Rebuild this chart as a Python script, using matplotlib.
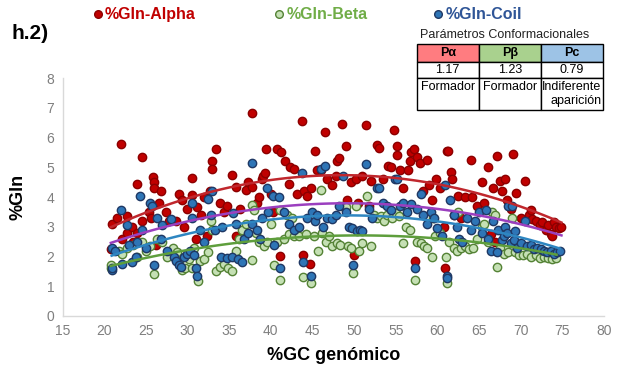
import matplotlib
matplotlib.use("Agg")
import matplotlib.pyplot as plt
from matplotlib.lines import Line2D
import numpy as np

# %Gln in alpha helix vs genomic %GC
alpha_x = [20.8, 21.0, 21.5, 22.0, 22.2, 22.7, 22.7, 23.3, 23.5, 23.9, 24.0, 24.5, 24.6, 25.4, 25.6,
           25.9, 26.0, 26.0, 26.2, 26.6, 26.8, 27.4, 27.8, 28.6, 29.0, 29.4, 29.6, 30.0, 30.6, 30.6,
           31.0, 31.2, 31.6, 32.0, 32.4, 32.7, 32.9, 33.0, 33.4, 33.9, 34.4, 34.8, 35.3, 35.8, 35.8,
           36.3, 37.0, 37.3, 37.7, 37.8, 38.3, 38.6, 38.9, 39.1, 39.3, 39.4, 40.0, 40.3,
           40.8, 41.1, 41.2, 41.7, 42.2, 42.3, 42.8, 43.2, 43.8, 43.9, 44.0, 44.3, 44.7, 44.8, 45.3,
           45.5, 46.0, 46.5, 46.8, 47.3, 47.8, 48.0, 48.2, 48.6, 49.0, 49.2, 49.6, 50.0, 50.2, 50.5,
           51.0, 51.4, 51.8, 52.0, 52.7, 53.0, 53.5, 54.1, 54.4, 54.8, 55.1, 55.1, 55.5, 55.9, 56.5,
           56.7, 56.8, 57.2, 57.3, 57.5, 57.9, 58.3, 58.7, 59.0, 59.4, 59.8, 60.3,
           60.8, 60.9, 61.1, 61.3, 61.6, 61.8, 62.0, 62.5, 62.8, 63.3, 64.0, 64.2, 64.8, 65.3, 65.6,
           66.1, 66.4, 66.7, 66.9, 67.1, 67.5, 67.8, 68.1, 68.3, 68.8, 69.1, 69.5, 70.0, 70.5, 71.0,
           71.3, 71.4, 71.9, 72.3, 72.6, 73.0, 73.3, 73.7, 73.8, 74.0, 74.3, 74.6, 74.9]
alpha_y = [2.25, 3.10, 3.28, 5.77, 2.60, 3.36, 2.80, 3.00, 2.50, 2.80, 4.43, 5.36, 3.20, 3.50, 3.30,
           4.68, 4.50, 4.30, 2.40, 3.80, 4.20, 3.50, 3.20, 3.20, 4.10, 3.90, 3.00, 3.60, 4.65, 4.06,
           2.60, 3.65, 3.40, 4.00, 2.70, 4.20, 5.20, 4.95, 5.60, 3.80, 3.50, 3.70, 4.75, 4.35, 2.70,
           3.60, 4.25, 4.50, 6.83, 4.35, 3.80, 4.00, 4.60, 4.70, 4.80, 5.62, 4.10, 3.50,
           5.60, 2.03, 5.50, 5.20, 4.45, 5.00, 4.95, 4.10, 6.55, 2.05, 4.20, 4.05, 1.74, 4.30, 5.55,
           4.90, 4.90, 6.20, 4.60, 4.40, 4.70, 5.20, 5.30, 6.44, 5.71, 3.90, 4.50, 2.05, 4.60, 3.80,
           4.70, 6.42, 3.70, 4.55, 5.75, 5.64, 4.60, 5.05, 5.00, 6.25, 5.73, 5.42, 4.90, 4.30, 4.90,
           5.20, 5.50, 5.60, 1.85, 5.35, 5.15, 4.20, 5.25, 4.40, 3.90, 4.60, 4.30,
           3.00, 1.60, 5.55, 5.55, 4.85, 4.60, 3.40, 4.03, 3.30, 4.00, 5.24, 4.00, 3.70, 4.50, 3.80,
           5.00, 2.75, 4.30, 2.50, 5.39, 4.55, 4.20, 4.60, 3.90, 3.60, 5.43, 4.15, 3.30, 4.55, 3.40,
           3.55, 3.25, 3.20, 3.05, 3.15, 2.90, 3.05, 2.75, 2.70, 3.15, 3.00, 2.95, 3.00]

# %Gln in beta sheet
beta_x = [20.8, 20.8, 21.8, 22.2, 22.7, 23.5, 24.0, 24.5, 25.0, 25.5, 26.0, 26.4, 27.0, 27.5, 28.3,
          28.7, 29.0, 29.3, 29.7, 30.2, 30.5, 30.8,
          31.3, 31.5, 32.0, 32.5, 32.8, 33.0, 33.4, 33.9, 34.4, 34.9, 35.3, 35.8, 36.2, 36.6, 37.0,
          37.7, 37.7, 38.0, 38.2, 38.6, 39.2, 39.6, 40.0, 40.4,
          40.8, 41.1, 41.1, 41.6, 42.0, 42.2, 42.6, 42.8, 43.4, 43.9, 44.2, 44.8, 45.2, 45.7, 46.0,
          46.2, 46.6, 47.0, 47.4, 48.0, 48.3, 48.6, 49.0, 49.3, 49.6, 49.9, 50.2,
          50.6, 51.0, 51.5, 52.0, 52.4, 52.8, 53.2, 53.6, 54.0, 54.5, 55.0, 55.4, 55.9, 56.2, 56.7,
          57.3, 57.6, 58.0, 58.4, 58.8, 59.3, 59.7, 59.5,
          60.3, 61.0, 61.1, 61.4, 62.0, 62.4, 62.5, 62.8, 63.3, 63.8, 64.3, 64.8, 65.3, 65.6, 66.1,
          66.5, 66.9, 67.1, 67.5, 68.0, 68.5, 69.0, 69.3, 69.8, 70.3, 70.8, 71.3, 71.8, 72.3, 72.8,
          73.3, 73.8, 74.3]
beta_y = [1.63, 1.70, 2.20, 2.10, 2.30, 2.40, 2.00, 2.50, 2.20, 2.35, 1.40, 2.60, 2.50, 2.00, 2.30,
          2.15, 1.85, 1.55, 1.60, 1.90, 1.60, 2.30,
          1.19, 1.85, 1.90, 2.15, 3.20, 2.90, 1.50, 1.65, 1.75, 1.60, 1.50, 2.20, 2.60, 2.90, 3.10,
          1.88, 3.73, 3.57, 2.80, 2.50, 2.35, 2.50, 3.10, 1.72,
          2.50, 1.21, 3.55, 2.60, 3.40, 2.75, 3.30, 2.70, 2.70, 1.30, 2.75, 1.10, 2.70, 2.20, 4.25,
          2.80, 2.50, 2.70, 2.35, 2.45, 2.40, 3.70, 3.65, 2.35, 2.30, 1.45, 3.70,
          2.20, 2.45, 4.03, 2.35, 3.40, 3.30, 3.35, 3.20, 3.40, 3.30, 3.45, 3.35, 2.45, 3.00, 2.90,
          1.21, 2.50, 2.45, 2.35, 2.30, 2.00, 2.70, 3.30,
          2.80, 2.00, 1.10, 2.50, 2.30, 2.20, 3.50, 2.30, 2.35, 2.25, 2.30, 2.60, 3.00, 3.10, 2.50,
          3.50, 3.40, 1.65, 2.30, 2.10, 2.15, 3.30, 2.15, 2.05, 2.05, 2.10, 2.00, 2.05, 1.95, 2.00,
          1.95, 1.90, 1.95]

# %Gln in coil
coil_x = [20.9, 20.9, 20.9, 21.3, 22.0, 22.2, 22.7, 23.0, 23.4, 23.8, 24.0, 24.3, 24.5, 25.0, 25.5,
          25.8, 26.0, 26.3, 26.8, 27.0, 27.5, 28.0, 28.4, 28.6, 29.0, 29.2, 29.6, 30.0, 30.3, 30.5,
          30.6, 30.8,
          31.0, 31.1, 31.5, 32.0, 32.5, 33.0, 32.8, 33.3, 34.0, 34.2, 34.8, 35.3, 35.5, 35.8, 36.1,
          36.5, 36.8, 37.3, 37.7, 37.7, 38.3, 38.7, 39.0, 39.5, 39.7, 40.3, 40.4,
          41.0, 41.1, 41.6, 42.2, 42.8, 43.4, 43.8, 43.9, 44.3, 44.8, 45.0, 45.3, 45.6, 46.0, 46.5,
          46.3, 46.8, 47.3, 47.8, 48.2, 48.7, 49.0, 49.4, 49.7, 49.9, 50.3,
          50.7, 51.0, 51.4, 51.8, 52.2, 52.7, 53.0, 53.5, 54.0, 54.4, 54.9, 55.1, 55.5, 55.9, 56.4,
          56.8, 57.3, 57.5, 58.0, 58.3, 58.7, 59.2, 59.6, 60.0,
          60.5, 60.9, 61.1, 61.1, 61.5, 62.0, 62.3, 62.6, 63.0, 63.5, 64.0, 64.5, 65.0, 65.4, 65.8,
          66.1, 66.4, 66.7, 67.1, 67.3, 67.7, 68.0, 68.1, 68.4, 68.5, 68.8, 69.0, 69.2, 69.3, 69.6,
          70.0, 70.5, 70.8, 71.2, 71.6, 72.0, 72.4, 72.8, 73.2, 73.6, 74.0, 74.4, 74.7]
coil_y = [1.55, 1.60, 2.30, 2.20, 3.55, 1.75, 3.05, 2.40, 1.80, 2.00, 2.50, 4.05, 2.90, 2.30, 3.80,
          3.70, 1.70, 3.30, 2.60, 3.05, 2.20, 3.25, 2.00, 1.85, 1.70, 1.65, 2.00, 2.10, 2.20, 3.30,
          3.80, 2.05,
          1.60, 1.35, 2.90, 2.50, 3.95, 4.20, 3.40, 2.90, 2.00, 3.00, 1.95, 2.00, 3.45, 3.10, 1.90,
          1.80, 2.60, 2.80, 5.13, 3.10, 2.90, 2.60, 3.30, 4.30, 3.50, 4.05, 2.40,
          4.00, 1.60, 3.50, 3.10, 2.90, 3.00, 4.80, 1.80, 3.30, 1.35, 3.50, 3.20, 3.40, 4.95, 5.04,
          3.00, 3.30, 3.25, 3.40, 3.70, 4.70, 3.50, 3.00, 2.95, 1.71, 2.85,
          2.90, 2.85, 5.10, 3.60, 3.30, 4.30, 4.30, 3.80, 3.70, 3.55, 4.60, 4.60, 3.70, 3.80, 3.50,
          3.75, 1.63, 3.60, 4.10, 3.40, 3.10, 3.50, 3.30, 2.95,
          2.70, 4.40, 1.35, 1.28, 3.90, 3.40, 3.00, 2.60, 2.50, 3.30, 2.90, 3.20, 3.50, 2.80, 3.55,
          2.60, 2.20, 3.20, 2.14, 2.90, 2.55, 2.70, 3.00, 2.80, 3.70, 2.45, 3.70, 2.55, 2.85, 2.30,
          2.45, 3.20, 2.35, 2.40, 2.25, 2.30, 2.25, 2.20, 2.15, 2.20, 2.10, 2.15, 2.20]

params_cols = ["P\u03b1", "P\u03b2", "Pc"]
params_vals = ["1.17", "1.23", "0.79"]
params_desc = ["Formador", "Formador", "Indiferente\naparici\u00f3n"]

plt.rcParams['font.family'] = ['Liberation Sans', 'DejaVu Sans']
narrow = ['Liberation Sans Narrow', 'Liberation Sans', 'DejaVu Sans']

fig = plt.figure(figsize=(6.22, 3.70), dpi=100)
ax = fig.add_axes([0.1005, 0.146, 0.8705, 0.643])

series = [
    ("%Gln-Alpha", alpha_x, alpha_y, "#C00000", "#8B0000", "#C00000", "#C0272D"),
    ("%Gln-Beta", beta_x, beta_y, "#C5E0B4", "#548235", "#70AD47", "#5E9E3C"),
    ("%Gln-Coil", coil_x, coil_y, "#2E75B6", "#1F3864", "#2F5597", "#2E86C1"),
]
for name, xs, ys, fc, ec, tc, lc in series:
    ax.scatter(xs, ys, s=36, facecolor=fc, edgecolor=ec, linewidth=1.0, zorder=2)

# 2nd order polynomial trend lines, drawn on top like in Excel
for name, xs, ys, fc, ec, tc, lc in series:
    c = np.polyfit(xs, ys, 2)
    xx = np.linspace(min(xs), max(xs), 100)
    ax.plot(xx, np.polyval(c, xx), color=lc, lw=1.8, zorder=3)

all_x = np.concatenate([alpha_x, beta_x, coil_x])
all_y = np.concatenate([alpha_y, beta_y, coil_y])
c = np.polyfit(all_x, all_y, 2)
xx = np.linspace(all_x.min(), all_x.max(), 100)
ax.plot(xx, np.polyval(c, xx) + 0.15, color="#9B3FBF", lw=1.8, zorder=3)

ax.set_xlim(15, 80)
ax.set_ylim(0, 8)
ax.set_xticks(range(15, 81, 5))
ax.set_yticks(range(0, 9))
for s in ["top", "right"]:
    ax.spines[s].set_visible(False)
for s in ["left", "bottom"]:
    ax.spines[s].set_color("#D9D9D9")
    ax.spines[s].set_linewidth(1.0)
ax.tick_params(length=0, labelsize=10, colors="#7F7F7F", pad=6)
ax.set_xlabel("%GC gen\u00f3mico", fontsize=13, fontweight="bold", labelpad=6)
ax.set_ylabel("%Gln", fontsize=13, fontweight="bold", labelpad=14)

fig.text(0.018, 0.91, "h.2)", fontsize=15, fontweight="bold", va="center")

# one small legend per series so each entry sits where it does in the original
legend_x = [0.152, 0.444, 0.699]
for (name, xs, ys, fc, ec, tc, lc), lx in zip(series, legend_x):
    h = Line2D([], [], ls="none", marker="o", markersize=5.5, markerfacecolor=fc,
               markeredgecolor=ec, markeredgewidth=1.0)
    leg = fig.legend([h], [name], loc="center left", bbox_to_anchor=(lx, 0.960),
                     frameon=False, handlelength=0.4, handletextpad=0.25,
                     borderpad=0.0, borderaxespad=0.0,
                     prop={'family': narrow, 'weight': 'bold', 'size': 11.5})
    leg.get_texts()[0].set_color(tc)

# conformational parameter table
fig.text(0.812, 0.905, "Par\u00e1metros Conformacionales", fontsize=9,
         family=narrow, ha="center", va="center", color="#222222")
tax = fig.add_axes([0.670, 0.703, 0.299, 0.178])
tax.axis("off")
tbl = tax.table(cellText=[params_vals, params_desc], colLabels=params_cols,
                cellLoc="center", bbox=[0, 0, 1, 1])
tbl.auto_set_font_size(False)
head_colors = ["#FF7C80", "#A9D18E", "#9DC3E6"]
heights = {0: 18, 1: 16, 2: 32}
for (r, col), cell in tbl.get_celld().items():
    cell.set_height(heights[r])
    cell.set_linewidth(1.0)
    cell.set_edgecolor("black")
    txt = cell.get_text()
    txt.set_fontsize(9)
    txt.set_family(narrow)
    if r == 0:
        cell.set_facecolor(head_colors[col])
        txt.set_fontweight("bold")
    if r == 2:
        if "\n" in params_desc[col]:
            txt.set_multialignment("right")
        else:
            txt.set_text(params_desc[col] + "\n ")

fig.savefig("out.png", dpi=100)
